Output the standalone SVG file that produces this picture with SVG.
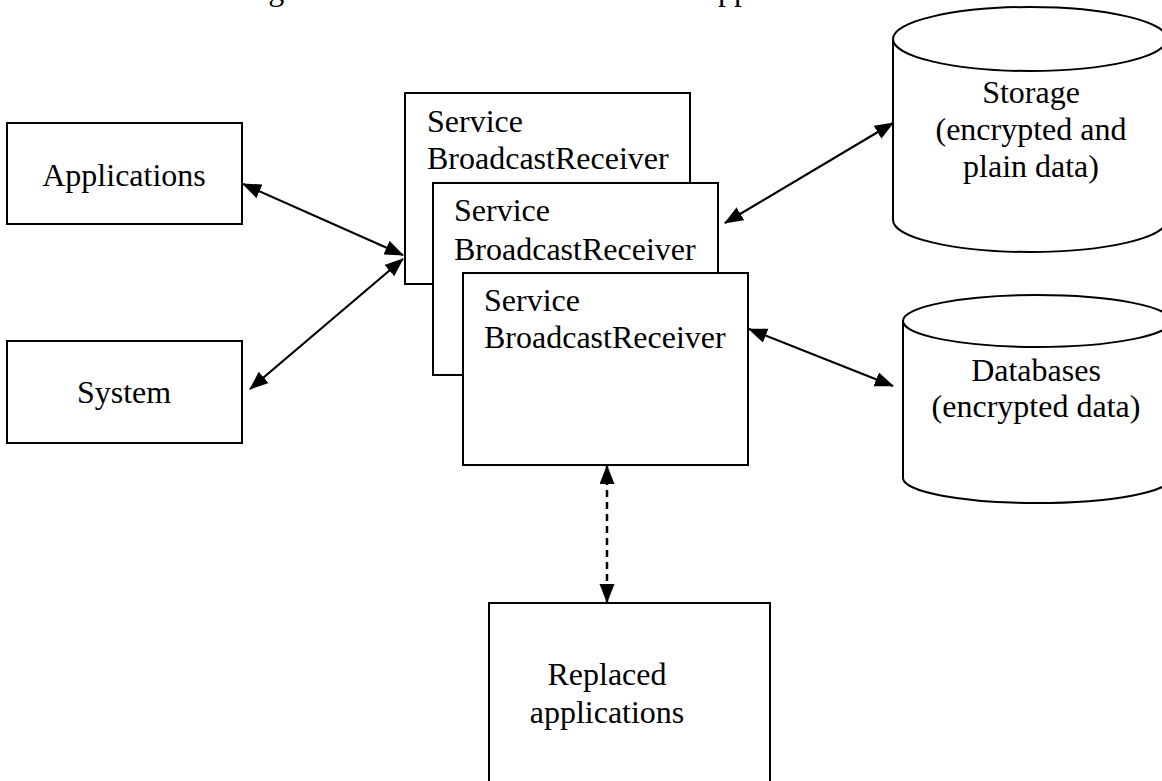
<svg xmlns="http://www.w3.org/2000/svg" width="1162" height="781" viewBox="0 0 1162 781">
<style>
.box{fill:#fff;stroke:#000;stroke-width:2}
.t{font-family:"Liberation Serif","Times New Roman",serif;font-size:32px;fill:#000}
.h{font-family:"Liberation Serif","Times New Roman",serif;font-size:32px;fill:#000}
.c{text-anchor:middle}
.ln{fill:none;stroke:#000;stroke-width:2.2}
.dash{stroke-dasharray:7 5;stroke-width:2.5}
</style>
<defs>
<marker id="ah" markerUnits="userSpaceOnUse" markerWidth="20" markerHeight="16" refX="18" refY="7.5" orient="auto-start-reverse" viewBox="0 0 20 16">
<path d="M0,0 L19,7.5 L0,15 z" fill="#000"/>
</marker>
</defs>
<rect width="1162" height="781" fill="#fff"/>
<g id="header">
<text class="h" x="7" y="0">access for advertising</text>
<text class="h" x="630" y="0">these applications.</text>
</g>
<g id="applications">
<rect class="box" x="7" y="123" width="235" height="101"/>
<text class="t c" x="124" y="186">Applications</text>
</g>
<g id="system">
<rect class="box" x="7" y="341" width="235" height="102"/>
<text class="t c" x="124" y="403">System</text>
</g>
<g id="service1">
<rect class="box" x="405" y="93" width="285" height="191"/>
<text class="t" x="427" y="132">Service</text>
<text class="t" x="427" y="169">BroadcastReceiver</text>
</g>
<g id="service2">
<rect class="box" x="433" y="183" width="285" height="192"/>
<text class="t" x="454" y="221">Service</text>
<text class="t" x="454" y="260">BroadcastReceiver</text>
</g>
<g id="service3">
<rect class="box" x="463" y="273" width="285" height="192"/>
<text class="t" x="484" y="311">Service</text>
<text class="t" x="484" y="348">BroadcastReceiver</text>
</g>
<g id="storage">
<path class="box" d="M893,39 L893,220 A137,32 0 0 0 1167,220 L1167,39"/>
<ellipse class="box" cx="1030" cy="39" rx="137" ry="32"/>
<text class="t c" x="1031" y="103">Storage</text>
<text class="t c" x="1031" y="140">(encrypted and</text>
<text class="t c" x="1031" y="177">plain data)</text>
</g>
<g id="databases">
<path class="box" d="M903,321 L903,478 A134,25 0 0 0 1171,478 L1171,321"/>
<ellipse class="box" cx="1037" cy="321" rx="134" ry="26"/>
<text class="t c" x="1036" y="381">Databases</text>
<text class="t c" x="1036" y="417">(encrypted data)</text>
</g>
<g id="replaced">
<rect class="box" x="489" y="603" width="281" height="200"/>
<text class="t c" x="607" y="685">Replaced</text>
<text class="t c" x="607" y="723">applications</text>
</g>
<g id="connectors">
<line class="ln" x1="243" y1="184" x2="403" y2="255" marker-start="url(#ah)" marker-end="url(#ah)"/>
<line class="ln" x1="250" y1="389" x2="403" y2="259" marker-start="url(#ah)" marker-end="url(#ah)"/>
<line class="ln" x1="725" y1="223" x2="893" y2="123" marker-start="url(#ah)" marker-end="url(#ah)"/>
<line class="ln" x1="749" y1="329" x2="893" y2="386" marker-start="url(#ah)" marker-end="url(#ah)"/>
<line class="ln dash" x1="607" y1="466" x2="607" y2="602" marker-start="url(#ah)" marker-end="url(#ah)"/>
</g>
</svg>
